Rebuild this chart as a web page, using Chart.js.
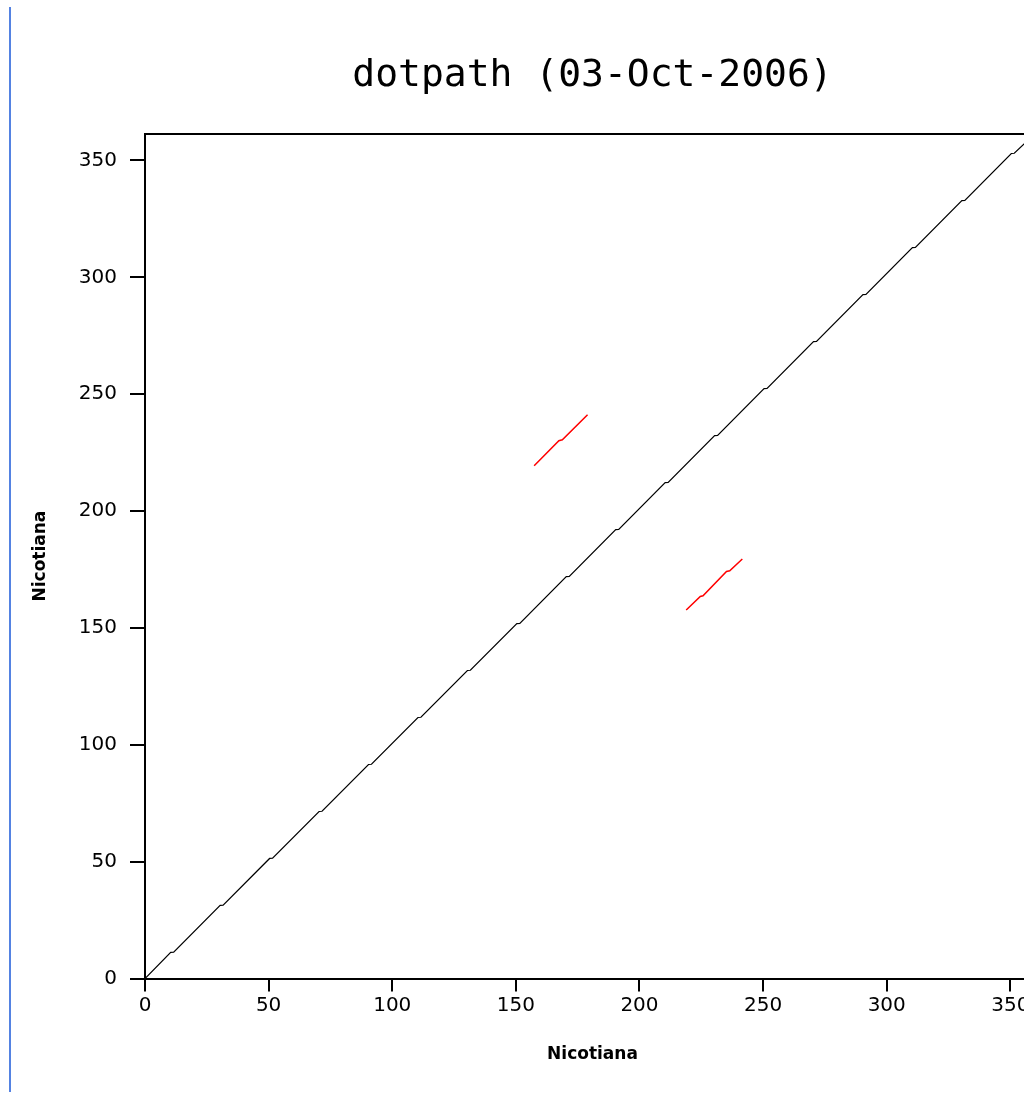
<!DOCTYPE html>
<html>
<head>
<meta charset="utf-8">
<script src="https://cdn.jsdelivr.net/npm/chart.js@4/dist/chart.umd.min.js"></script>
<style>
  html, body { margin: 0; padding: 0; background: #fff; overflow: hidden; width: 1024px; height: 1099px; }
  #wrap { position: absolute; left: 0; top: 0; width: 1040px; height: 1099px; }
  #bar { position: absolute; left: 9px; top: 7px; width: 2px; height: 1085px; background: #5482e2; }
</style>
</head>
<body>
<div id="wrap"><canvas id="c" width="1040" height="1099"></canvas></div>
<div id="bar"></div>
<script>
const chartTitle = 'dotpath (03-Oct-2006)';
const xAxisTitle = 'Nicotiana';
const yAxisTitle = 'Nicotiana';
const xRange = [0, 362];
const yRange = [0, 361.5];
const tickStep = 50;

// main diagonal path (x, y)
const diagX = [0, 10.4, 11.6, 30.4, 31.6, 50.4, 51.6, 70.4, 71.6, 90.4, 91.6, 110.4, 111.6, 130.4, 131.6, 150.4, 151.6, 170.4, 171.6, 190.4, 191.6, 210.4, 211.6, 230.4, 231.6, 250.4, 251.6, 270.4, 271.6, 290.4, 291.6, 310.4, 311.6, 330.4, 331.6, 350.4, 351.6, 364];
const diagY = [0, 11.2, 11.3, 31.3, 31.4, 51.4, 51.5, 71.5, 71.6, 91.6, 91.7, 111.7, 111.8, 131.8, 131.9, 151.9, 152.0, 172.0, 172.1, 192.1, 192.2, 212.2, 212.3, 232.3, 232.4, 252.4, 252.5, 272.5, 272.6, 292.6, 292.7, 312.7, 312.8, 332.8, 332.9, 353.0, 353.1, 365.5];

// red off-diagonal segments
const red1X = [157.4, 167.4, 168.8, 179.0];
const red1Y = [219.4, 230.1, 230.5, 241.2];
const red2X = [218.9, 224.6, 225.7, 235.2, 236.5, 241.6];
const red2Y = [157.7, 163.5, 163.8, 174.2, 174.5, 179.5];

const toPts = (xs, ys) => xs.map((x, i) => ({ x: x, y: ys[i] }));

const tickFont = { family: 'DejaVu Sans', size: 20 };
const axTitleFont = { family: 'DejaVu Sans', size: 17, weight: 'bold' };

new Chart(document.getElementById('c'), {
  type: 'scatter',
  data: {
    datasets: [
      { data: toPts(diagX, diagY), showLine: true, borderColor: '#000', borderWidth: 1.2, pointRadius: 0, tension: 0 },
      { data: toPts(red1X, red1Y), showLine: true, borderColor: '#ff0000', borderWidth: 1.5, pointRadius: 0, tension: 0 },
      { data: toPts(red2X, red2Y), showLine: true, borderColor: '#ff0000', borderWidth: 1.5, pointRadius: 0, tension: 0 }
    ]
  },
  options: {
    responsive: false,
    animation: false,
    devicePixelRatio: 1,
    layout: { padding: 0 },
    plugins: {
      legend: { display: false },
      tooltip: { enabled: false },
      title: {
        display: true,
        text: chartTitle,
        fullSize: false,
        color: '#000',
        font: { family: 'DejaVu Sans Mono', size: 38, weight: 'normal' },
        padding: { top: 53, bottom: 35 }
      }
    },
    scales: {
      x: {
        type: 'linear',
        position: 'bottom',
        min: xRange[0], max: xRange[1],
        afterFit: (s) => { s.height = 120.4; },
        border: { display: true, color: '#000', width: 2 },
        grid: { drawOnChartArea: false, drawTicks: true, tickLength: 13, color: '#000', lineWidth: 2 },
        ticks: { stepSize: tickStep, includeBounds: false, color: '#000', font: tickFont, padding: 2, maxRotation: 0 },
        title: { display: true, text: xAxisTitle, color: '#000', font: axTitleFont, padding: { top: 0, bottom: 34 } }
      },
      x2: {
        type: 'linear',
        position: 'top',
        min: xRange[0], max: xRange[1],
        afterFit: (s) => { s.height = 0; },
        border: { display: true, color: '#000', width: 2 },
        grid: { drawOnChartArea: false, drawTicks: false },
        ticks: { display: false }
      },
      y: {
        type: 'linear',
        position: 'left',
        min: yRange[0], max: yRange[1],
        afterFit: (s) => { s.width = 145; },
        border: { display: true, color: '#000', width: 2 },
        grid: { drawOnChartArea: false, drawTicks: true, tickLength: 15, color: '#000', lineWidth: 2 },
        ticks: { stepSize: tickStep, includeBounds: false, color: '#000', font: tickFont, padding: 13 },
        title: { display: true, text: yAxisTitle, color: '#000', font: axTitleFont, padding: { top: 30, bottom: 0 } }
      }
    }
  }
});
</script>
</body>
</html>
